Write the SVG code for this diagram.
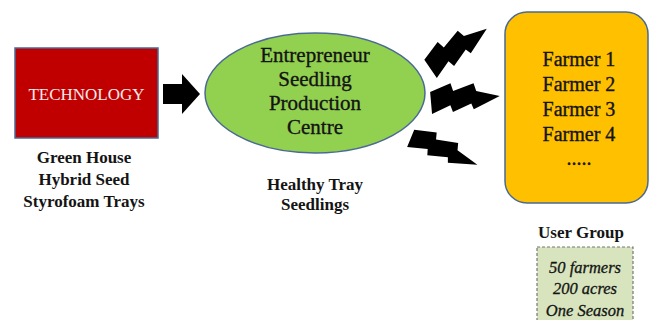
<svg xmlns="http://www.w3.org/2000/svg" width="651" height="320" viewBox="0 0 651 320">
<style>
text{font-family:'Liberation Serif','DejaVu Serif',serif;fill:#141414;text-anchor:middle}
.b{font-weight:bold;font-size:17px}
.n{font-size:21px;stroke:#141414;stroke-width:0.35}
.f{font-size:20px;stroke:#141414;stroke-width:0.35}
.i{font-style:italic;font-size:16.5px;stroke:#141414;stroke-width:0.3}
</style>
<defs>
<polygon id="bolt" points="0,-10 21,-17 23,-9 44,-15 46,-7 69,0 42,11 40,5 21,12 19,5 0,12" fill="#000"/>
</defs>
<rect width="651" height="320" fill="#fff"/>
<g id="technology">
<rect x="15" y="48" width="143" height="90" fill="#C00000" stroke="#4a6a94" stroke-width="1.5"/>
<text x="86.5" y="100" font-size="17" style="fill:#f4ecec">TECHNOLOGY</text>
<text class="b" x="84" y="163">Green House</text>
<text class="b" x="84" y="185">Hybrid Seed</text>
<text class="b" x="84" y="207">Styrofoam Trays</text>
</g>
<g id="centre">
<ellipse cx="315" cy="93" rx="110" ry="60" fill="#92D050" stroke="#4a6a94" stroke-width="1.5"/>
<text class="n" x="315" y="62">Entrepreneur</text>
<text class="n" x="315" y="86">Seedling</text>
<text class="n" x="315" y="110">Production</text>
<text class="n" x="315" y="134">Centre</text>
<text class="b" x="315" y="190">Healthy Tray</text>
<text class="b" x="315" y="210">Seedlings</text>
</g>
<g id="farmers">
<rect x="505" y="12" width="143" height="191" rx="22" fill="#FFC000" stroke="#4a6a94" stroke-width="1.5"/>
<text class="f" x="579" y="66">Farmer 1</text>
<text class="f" x="579" y="91">Farmer 2</text>
<text class="f" x="579" y="116">Farmer 3</text>
<text class="f" x="579" y="141">Farmer 4</text>
<text class="f" x="579" y="165">.....</text>
</g>
<g id="usergroup">
<text class="b" x="581" y="238">User Group</text>
<rect x="537" y="247" width="96" height="76" fill="#D7E4BD" stroke="#777" stroke-width="1.2" stroke-dasharray="3,2"/>
<text class="i" x="585" y="273">50 farmers</text>
<text class="i" x="585" y="294">200 acres</text>
<text class="i" x="585" y="316">One Season</text>
</g>
<g id="connectors">
<polygon points="163,84 182,84 182,74 200,94 182,114 182,104 163,104" fill="#000"/>
<use href="#bolt" transform="translate(430,68) rotate(-34.6)"/>
<use href="#bolt" transform="translate(431,102) rotate(-5)"/>
<use href="#bolt" transform="translate(411,137.5) rotate(22.3) scale(1.04,0.85)"/>
</g>
</svg>
